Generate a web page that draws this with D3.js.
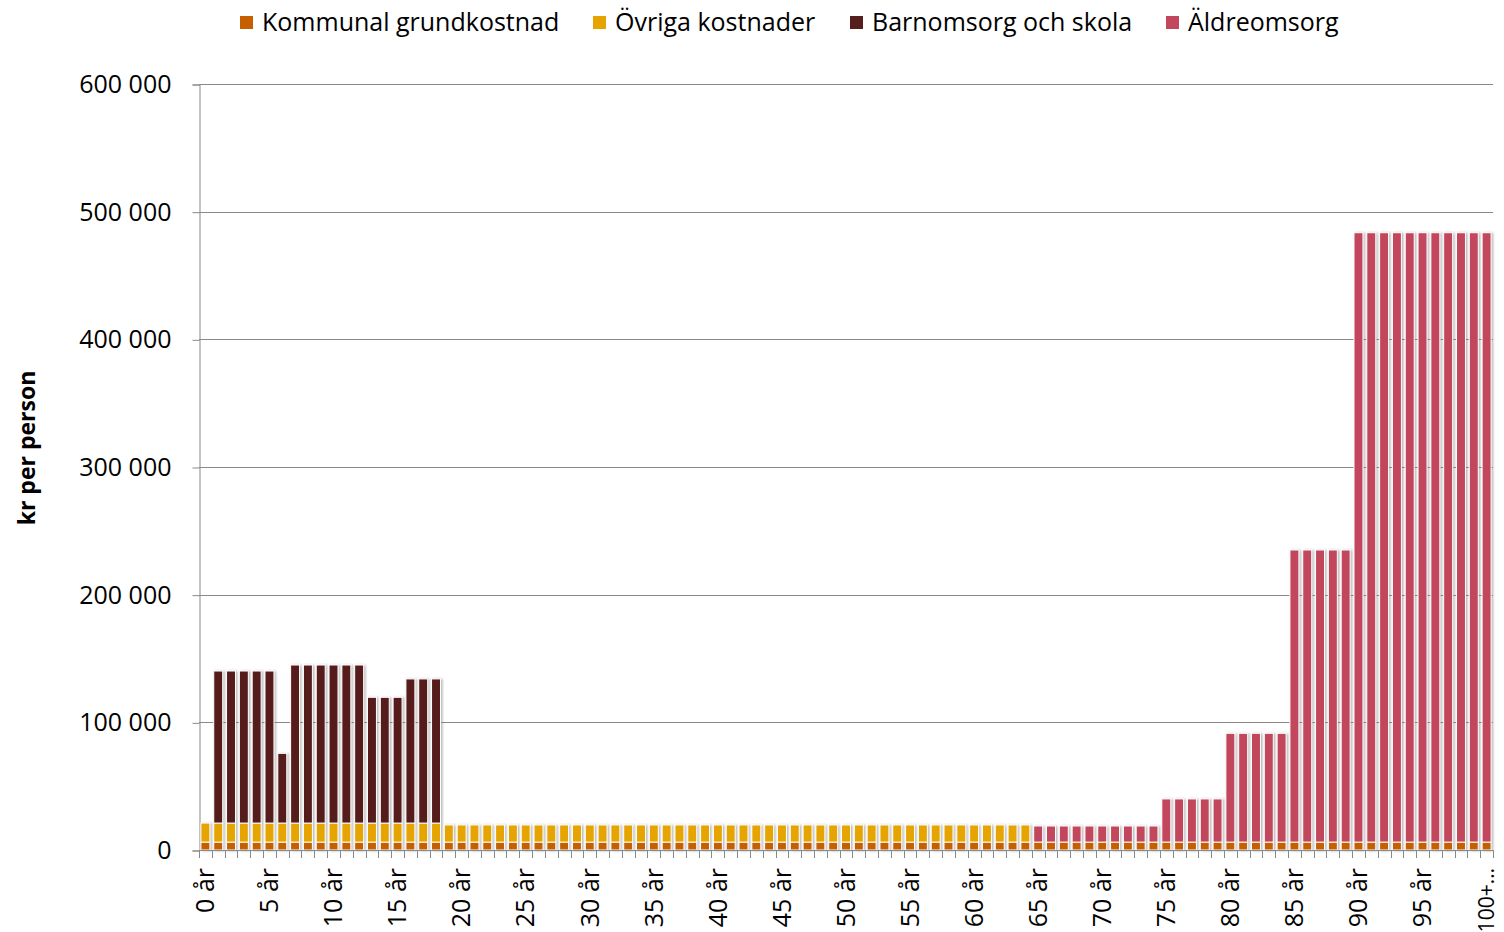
<!DOCTYPE html>
<html>
<head>
<meta charset="utf-8">
<script src="https://cdn.jsdelivr.net/npm/d3@7"></script>
<style>
  body { margin: 0; background: #fff; }
  text { font-family: "Open Sans", "Noto Sans", sans-serif; fill: #000; }
</style>
</head>
<body>
<div id="chart"></div>
<script>
// chart data, one value per age group (0 år ... 100+ år)
var ages = ["0 år","1 år","2 år","3 år","4 år","5 år","6 år","7 år","8 år","9 år",
  "10 år","11 år","12 år","13 år","14 år","15 år","16 år","17 år","18 år","19 år",
  "20 år","21 år","22 år","23 år","24 år","25 år","26 år","27 år","28 år","29 år",
  "30 år","31 år","32 år","33 år","34 år","35 år","36 år","37 år","38 år","39 år",
  "40 år","41 år","42 år","43 år","44 år","45 år","46 år","47 år","48 år","49 år",
  "50 år","51 år","52 år","53 år","54 år","55 år","56 år","57 år","58 år","59 år",
  "60 år","61 år","62 år","63 år","64 år","65 år","66 år","67 år","68 år","69 år",
  "70 år","71 år","72 år","73 år","74 år","75 år","76 år","77 år","78 år","79 år",
  "80 år","81 år","82 år","83 år","84 år","85 år","86 år","87 år","88 år","89 år",
  "90 år","91 år","92 år","93 år","94 år","95 år","96 år","97 år","98 år","99 år",
  "100+ år"]

var kommunal = [6200,6200,6200,6200,6200,6200,6200,6200,6200,6200,
  6200,6200,6200,6200,6200,6200,6200,6200,6200,6200,
  6200,6200,6200,6200,6200,6200,6200,6200,6200,6200,
  6200,6200,6200,6200,6200,6200,6200,6200,6200,6200,
  6200,6200,6200,6200,6200,6200,6200,6200,6200,6200,
  6200,6200,6200,6200,6200,6200,6200,6200,6200,6200,
  6200,6200,6200,6200,6200,6200,6200,6200,6200,6200,
  6200,6200,6200,6200,6200,6200,6200,6200,6200,6200,
  6200,6200,6200,6200,6200,6200,6200,6200,6200,6200,
  6200,6200,6200,6200,6200,6200,6200,6200,6200,6200,
  6200]

var ovriga = [14900,14900,14900,14900,14900,14900,14900,14900,14900,14900,
  14900,14900,14900,14900,14900,14900,14900,14900,14900,13400,
  13400,13400,13400,13400,13400,13400,13400,13400,13400,13400,
  13400,13400,13400,13400,13400,13400,13400,13400,13400,13400,
  13400,13400,13400,13400,13400,13400,13400,13400,13400,13400,
  13400,13400,13400,13400,13400,13400,13400,13400,13400,13400,
  13400,13400,13400,13400,13400,0,0,0,0,0,
  0,0,0,0,0,0,0,0,0,0,
  0,0,0,0,0,0,0,0,0,0,
  0,0,0,0,0,0,0,0,0,0,
  0]

var barnomsorg = [0,119100,119100,119100,119100,119100,54600,123800,123800,123800,
  123800,123800,123800,98500,98500,98500,112900,112900,112900,0,
  0,0,0,0,0,0,0,0,0,0,
  0,0,0,0,0,0,0,0,0,0,
  0,0,0,0,0,0,0,0,0,0,
  0,0,0,0,0,0,0,0,0,0,
  0,0,0,0,0,0,0,0,0,0,
  0,0,0,0,0,0,0,0,0,0,
  0,0,0,0,0,0,0,0,0,0,
  0,0,0,0,0,0,0,0,0,0,
  0]

var aldreomsorg = [0,0,0,0,0,0,0,0,0,0,
  0,0,0,0,0,0,0,0,0,0,
  0,0,0,0,0,0,0,0,0,0,
  0,0,0,0,0,0,0,0,0,0,
  0,0,0,0,0,0,0,0,0,0,
  0,0,0,0,0,0,0,0,0,0,
  0,0,0,0,0,12600,12600,12600,12600,12600,
  12600,12600,12600,12600,12600,33800,33800,33800,33800,33800,
  85200,85200,85200,85200,85200,228800,228800,228800,228800,228800,
  477300,477300,477300,477300,477300,477300,477300,477300,477300,477300,
  477300]

var seriesNames = ["Kommunal grundkostnad", "Övriga kostnader", "Barnomsorg och skola", "Äldreomsorg"]
var seriesColors = ["#C55F00", "#E5A400", "#561E1C", "#C2475C"]
var yTicks = [0, 100000, 200000, 300000, 400000, 500000, 600000]
var xLabelAges = ["0 år","5 år","10 år","15 år","20 år","25 år","30 år","35 år","40 år","45 år",
  "50 år","55 år","60 år","65 år","70 år","75 år","80 år","85 år","90 år","95 år","100+ år"]

// set dimensions
var width = 1504
var height = 932
var plotLeft = 199, plotRight = 1493, plotTop = 84, plotBottom = 850

var svg = d3.select("#chart")
  .append("svg")
  .attr("width", width)
  .attr("height", height)

// soft shadow like the original bars
var defs = svg.append("defs")
defs.append("filter")
  .attr("id", "shadow")
  .attr("x", "-30%").attr("y", "-5%")
  .attr("width", "160%").attr("height", "110%")
  .append("feDropShadow")
  .attr("dx", 1.5).attr("dy", 0.5)
  .attr("stdDeviation", 1)
  .attr("flood-color", "#777")
  .attr("flood-opacity", 0.55)

// table for the stack
var table = ages.map(function(a, i) {
  return { age: a, k: kommunal[i], o: ovriga[i], b: barnomsorg[i], e: aldreomsorg[i] }
})
var keys = ["k", "o", "b", "e"]
var stacked = d3.stack().keys(keys)(table)

var x = d3.scaleBand()
  .domain(ages)
  .range([plotLeft, plotRight])
  .paddingInner(0.3)
  .paddingOuter(0.15)

var y = d3.scaleLinear()
  .domain([0, 600000])
  .range([plotBottom, plotTop])

// gridlines
svg.append("g")
  .selectAll("line")
  .data(yTicks.slice(1))
  .enter()
  .append("line")
  .attr("x1", plotLeft)
  .attr("x2", plotRight)
  .attr("y1", function(d) { return Math.round(y(d)) + 0.5 })
  .attr("y2", function(d) { return Math.round(y(d)) + 0.5 })
  .attr("stroke", "#898989")
  .attr("stroke-width", 1)

// y axis
var yAxis = svg.append("g")
  .attr("transform", "translate(" + (plotLeft + 0.5) + ",0.5)")
  .call(d3.axisLeft(y).tickValues(yTicks).tickSize(7).tickPadding(21)
    .tickFormat(function(d) { return d3.format(",")(d).replace(/,/g, " ") }))
yAxis.select(".domain").attr("stroke", "#898989")
yAxis.selectAll(".tick line").attr("stroke", "#898989")
yAxis.selectAll("text")
  .attr("font-size", "25px")
  .attr("font-family", "Open Sans")
  .attr("fill", "#000")

// bars
var layers = svg.append("g")
  .attr("filter", "url(#shadow)")
  .selectAll("g")
  .data(stacked)
  .enter()
  .append("g")
  .attr("fill", function(d, i) { return seriesColors[i] })

layers.selectAll("rect")
  .data(function(d) { return d.filter(function(s) { return s[1] - s[0] > 0 }) })
  .enter()
  .append("rect")
  .attr("x", function(d) { return x(d.data.age) })
  .attr("width", x.bandwidth())
  .attr("y", function(d) { return y(d[1]) })
  .attr("height", function(d) { return y(d[0]) - y(d[1]) })
  .attr("stroke", "#fff")
  .attr("stroke-width", 1)

// x axis line and ticks at the category boundaries
var stepW = (plotRight - plotLeft) / ages.length
svg.append("line")
  .attr("x1", plotLeft).attr("x2", plotRight)
  .attr("y1", plotBottom + 0.5).attr("y2", plotBottom + 0.5)
  .attr("stroke", "#898989")
svg.append("g")
  .selectAll("line")
  .data(d3.range(ages.length + 1))
  .enter()
  .append("line")
  .attr("x1", function(i) { return Math.round(plotLeft + i * stepW) + 0.5 })
  .attr("x2", function(i) { return Math.round(plotLeft + i * stepW) + 0.5 })
  .attr("y1", plotBottom)
  .attr("y2", plotBottom + 8)
  .attr("stroke", "#898989")

// x labels, every fifth age
svg.append("g")
  .selectAll("text")
  .data(xLabelAges)
  .enter()
  .append("text")
  .attr("transform", function(d) {
    return "translate(" + (x(d) + x.bandwidth() / 2) + "," + (plotBottom + 18) + ") rotate(-90)"
  })
  .attr("dy", "0.35em")
  .attr("text-anchor", "end")
  .attr("font-size", function(d) { return d == "100+ år" ? "21px" : "25px" })
  .text(function(d) { return d == "100+ år" ? "100+…" : d })

// y axis title
svg.append("text")
  .attr("transform", "translate(27,448) rotate(-90)")
  .attr("dy", "0.35em")
  .attr("text-anchor", "middle")
  .attr("font-size", "23px")
  .attr("font-weight", 700)
  .text("kr per person")

// legend
var legendX = [240, 593, 850, 1166]
var legend = svg.append("g")
  .selectAll("g")
  .data(seriesNames)
  .enter()
  .append("g")
  .attr("transform", function(d, i) { return "translate(" + legendX[i] + ",0)" })
legend.append("rect")
  .attr("x", 0).attr("y", 16)
  .attr("width", 13).attr("height", 13)
  .attr("fill", function(d, i) { return seriesColors[i] })
legend.append("text")
  .attr("x", 22)
  .attr("y", 22)
  .attr("dy", "0.35em")
  .attr("font-size", "25px")
  .text(function(d) { return d })
</script>
</body>
</html>
